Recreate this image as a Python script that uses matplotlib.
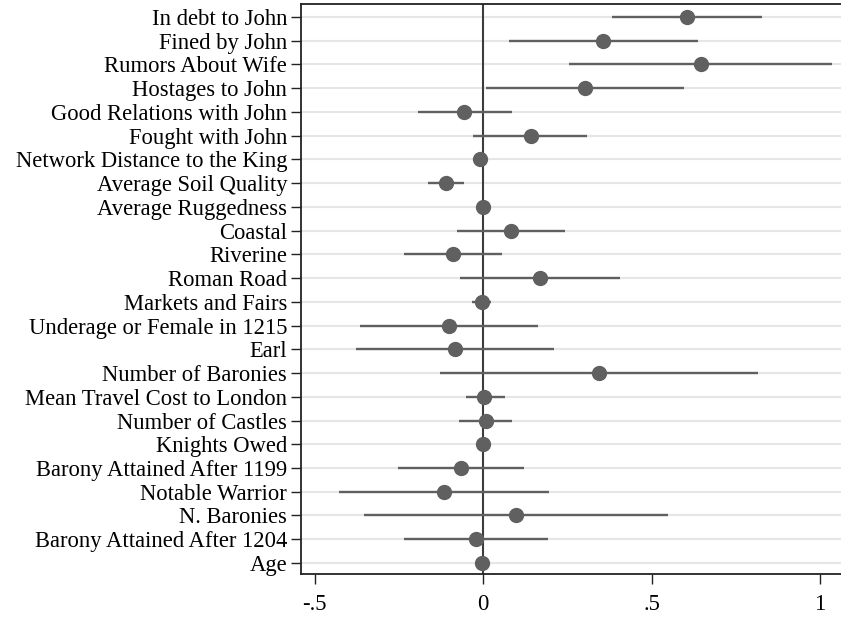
import matplotlib
matplotlib.use("Agg")
import matplotlib.pyplot as plt

labels = [
    "In debt to John",
    "Fined by John",
    "Rumors About Wife",
    "Hostages to John",
    "Good Relations with John",
    "Fought with John",
    "Network Distance to the King",
    "Average Soil Quality",
    "Average Ruggedness",
    "Coastal",
    "Riverine",
    "Roman Road",
    "Markets and Fairs",
    "Underage or Female in 1215",
    "Earl",
    "Number of Baronies",
    "Mean Travel Cost to London",
    "Number of Castles",
    "Knights Owed",
    "Barony Attained After 1199",
    "Notable Warrior",
    "N. Baronies",
    "Barony Attained After 1204",
    "Age",
]
coef = [0.606, 0.357, 0.646, 0.302, -0.056, 0.141, -0.010, -0.110,
        0.000, 0.083, -0.090, 0.169, -0.004, -0.100, -0.084, 0.343,
        0.004, 0.008, 0.000, -0.066, -0.115, 0.099, -0.020, -0.003]
ci_low = [0.383, 0.077, 0.254, 0.008, -0.194, -0.030, -0.014, -0.162,
          -0.003, -0.076, -0.234, -0.068, -0.034, -0.364, -0.376, -0.129,
          -0.052, -0.070, -0.003, -0.253, -0.426, -0.354, -0.235, -0.006]
ci_high = [0.828, 0.637, 1.035, 0.597, 0.085, 0.307, -0.006, -0.057,
           0.003, 0.242, 0.056, 0.405, 0.025, 0.163, 0.209, 0.815,
           0.065, 0.087, 0.003, 0.122, 0.196, 0.550, 0.194, 0.000]
xticks = [-0.5, 0, 0.5, 1]
xticklabels = ["-.5", "0", ".5", "1"]

plt.rcParams["font.family"] = ["Liberation Serif", "DejaVu Serif"]

fig = plt.figure(figsize=(8.41, 6.18), dpi=100)
ax = fig.add_axes([0.358, 0.071, 0.642, 0.922])

ypos = list(range(len(labels)))
for y in ypos:
    ax.axhline(y, color="#e6e6e6", linewidth=1.5, zorder=0)

ax.axvline(0, color="#3c3c3c", linewidth=1.5, zorder=1)

ax.hlines(ypos, ci_low, ci_high, color="#606060", linewidth=1.7, zorder=2)
ax.plot(coef, ypos, "o", color="#606060", markersize=10, zorder=3)

ax.set_xlim(-0.54, 1.062)
ax.set_ylim(23.47, -0.53)
ax.set_yticks(ypos)
ax.set_yticklabels(labels, fontsize=16.3)
ax.set_xticks(xticks)
ax.set_xticklabels(xticklabels, fontsize=16.3)
ax.tick_params(axis="both", direction="out", length=7, width=1, color="#222222")
ax.tick_params(axis="y", pad=3)
ax.tick_params(axis="x", pad=7)

for side in ["left", "bottom", "top"]:
    ax.spines[side].set_color("#222222")
    ax.spines[side].set_linewidth(1.3)
ax.spines["right"].set_visible(False)

fig.savefig("out.png", dpi=100)
